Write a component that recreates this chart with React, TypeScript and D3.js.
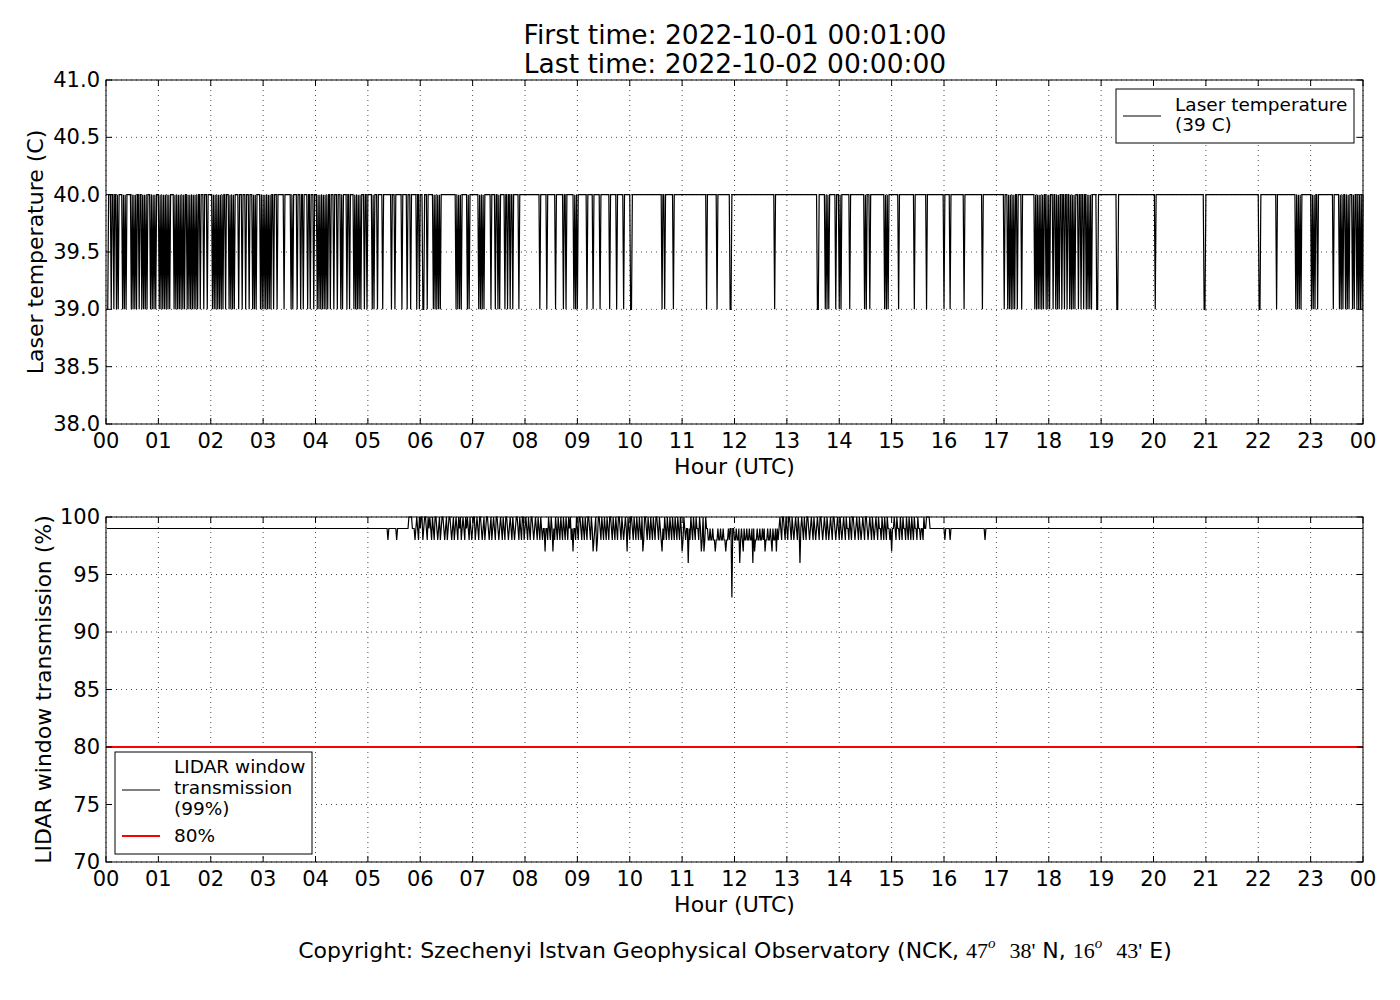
import React from 'react';
import * as d3 from 'd3';

// ---- data ----
const hourLabels = ['00', '01', '02', '03', '04', '05', '06', '07', '08', '09', '10', '11', '12',
  '13', '14', '15', '16', '17', '18', '19', '20', '21', '22', '23', '00'];
const tempTicks = [38.0, 38.5, 39.0, 39.5, 40.0, 40.5, 41.0];
const windowTicks = [70, 75, 80, 85, 90, 95, 100];

const firstMinute = 1;
const lastMinute = 1440;

// laser temperature: 40 C, except these minutes of the day where it reads 39 C
const tempHigh = 40;
const tempLow = 39;
const lowMinutes00to06 = [1, 2, 6, 9, 12, 14, 19, 21, 23, 29, 31, 33, 35, 38, 41, 43, 45, 47, 51, 53, 55, 57,
  61, 63, 65, 67, 69, 71, 73, 78, 80, 82, 84, 86, 88, 90, 93, 95, 97, 99, 101, 103, 105, 108, 112, 116,
  122, 124, 126, 128, 130, 132, 134, 137, 141, 143, 145, 147, 152, 156, 160, 164, 168, 170, 172, 177,
  179, 181, 183, 185, 187, 189, 192, 196, 204, 212, 214, 219, 223, 226, 231, 234, 238, 242, 244, 246,
  248, 250, 252, 254, 257, 261, 265, 269, 271, 276, 279, 284, 286, 288, 290, 292, 296, 299, 305, 307,
  311, 317, 327, 331, 339, 345, 349, 356, 359];
const lowMinutes06to12 = [363, 364, 368, 375, 377, 379, 381, 383, 401, 403, 405, 407, 414, 416, 427, 429,
  431, 433, 441, 446, 449, 451, 457, 460, 463, 466, 473, 497, 505, 515, 524, 527, 536, 538, 540, 551,
  558, 566, 577, 585, 593, 601, 602, 637, 640, 650, 688, 700, 715, 716];
const lowMinutes12to18 = [766, 815, 816, 824, 826, 828, 836, 840, 842, 852, 869, 871, 875, 892, 894, 896,
  908, 926, 940, 960, 967, 983, 1004, 1029, 1033, 1035, 1037, 1039, 1041, 1044, 1049, 1064, 1066, 1068,
  1070, 1072, 1074, 1077, 1079, 1081];
const lowMinutes18to24 = [1085, 1088, 1090, 1092, 1095, 1098, 1101, 1104, 1106, 1108, 1110, 1114, 1117,
  1120, 1123, 1125, 1127, 1129, 1135, 1136, 1158, 1159, 1202, 1258, 1259, 1321, 1322, 1341, 1363, 1365,
  1367, 1369, 1381, 1383, 1385, 1388, 1406, 1413, 1415, 1417, 1420, 1422, 1424, 1428, 1430, 1433, 1435,
  1437, 1439];

// LIDAR window transmission: 99 %, except these minutes
const windowBase = 99;
const windowAt100 = [347, 348, 349, 350, 356, 359, 361, 362, 365, 366, 369, 371, 374, 377, 378, 382, 385,
  386, 390, 393, 394, 398, 401, 404, 406, 409, 412, 414, 417, 421, 422, 425, 428, 429, 433, 436, 437, 441,
  444, 447, 448, 452, 455, 458, 459, 463, 466, 470, 471, 474, 477, 478, 481, 484, 487, 488, 492, 495, 498,
  507, 510, 515, 518, 521, 524, 527, 530, 532, 539, 542, 543, 546, 549, 552, 553, 556, 561, 564, 565, 568,
  571, 574, 577, 578, 581, 584, 587, 588, 591, 595, 598, 601, 602, 605, 608, 611, 614, 617, 618, 621, 624,
  627, 630, 631, 634, 640, 643, 646, 649, 652, 655, 658, 662, 670, 673, 676, 680, 684, 687, 772, 775, 776,
  779, 782, 783, 786, 790, 793, 797, 800, 803, 804, 808, 811, 815, 818, 819, 823, 826, 830, 833, 834, 838,
  841, 845, 848, 852, 855, 856, 860, 863, 867, 870, 871, 875, 878, 882, 885, 889, 892, 895, 903, 906, 910,
  913, 917, 920, 923, 926, 930, 937, 940, 941, 942, 943];
const windowAt98 = [323, 333, 354, 358, 363, 368, 373, 376, 380, 383, 388, 391, 396, 399, 403, 407, 411,
  416, 419, 423, 427, 431, 434, 439, 442, 446, 450, 454, 457, 461, 465, 468, 473, 476, 479, 483, 486, 490,
  494, 497, 500, 506, 509, 514, 517, 520, 523, 526, 529, 533, 538, 541, 545, 548, 551, 555, 559, 563, 567,
  570, 573, 576, 580, 583, 586, 590, 593, 600, 604, 607, 610, 613, 616, 620, 623, 626, 629, 633, 636, 639,
  642, 645, 648, 651, 654, 657, 661, 664, 669, 672, 675, 679, 683, 686, 690, 691, 693, 694, 696, 697, 699,
  700, 702, 703, 705, 706, 708, 709, 711, 712, 714, 720, 721, 723, 724, 727, 729, 732, 733, 735, 736, 738,
  739, 744, 745, 747, 748, 750, 751, 753, 756, 757, 759, 760, 762, 765, 766, 770, 774, 778, 781, 785,
  788, 792, 799, 802, 806, 810, 813, 817, 821, 825, 828, 832, 836, 840, 843, 847, 851, 854, 858, 862, 865,
  869, 873, 877, 880, 884, 888, 891, 894, 898, 905, 909, 912, 916, 919, 922, 925, 929, 933, 936, 961, 967,
  1007];
const windowAt97 = [503, 512, 535, 558, 562, 597, 615, 637, 660, 682, 685, 698, 710, 730, 743, 755, 763,
  768, 900];
const windowAt96 = [667, 726, 741, 795];
const windowAt93 = [717];
const windowThreshold = 80;

// ---- series built from the lists ----
const lowSet = new Set([...lowMinutes00to06, ...lowMinutes06to12, ...lowMinutes12to18, ...lowMinutes18to24]);
const windowMap = new Map<number, number>();
windowAt100.forEach(m => windowMap.set(m, 100));
windowAt98.forEach(m => windowMap.set(m, 98));
windowAt97.forEach(m => windowMap.set(m, 97));
windowAt96.forEach(m => windowMap.set(m, 96));
windowAt93.forEach(m => windowMap.set(m, 93));

const minutes = d3.range(firstMinute, lastMinute + 1);
const tempSeries = minutes.map(m => ({ m, v: lowSet.has(m) ? tempLow : tempHigh }));
const windowSeries = minutes.map(m => ({ m, v: windowMap.get(m) ?? windowBase }));

// ---- layout ----
const FONT = 'DejaVu Sans, sans-serif';
const SERIF = 'Liberation Serif, serif';
const left = 106;
const right = 1363;
const topY = [80, 424];
const botY = [517, 862];
const tickLen = 6;
const tickSize = 21;
const labelSize = 22;

const x = d3.scaleLinear().domain([0, 1440]).range([left, right]);
const yTemp = d3.scaleLinear().domain([38, 41]).range([topY[1], topY[0]]);
const yWin = d3.scaleLinear().domain([70, 100]).range([botY[1], botY[0]]);

type PanelProps = {
  y: d3.ScaleLinear<number, number>;
  ticks: number[];
  fmt: (v: number) => string;
  top: number;
  bottom: number;
  yLabel: string;
  yLabelX: number;
  children?: React.ReactNode;
};

const Panel = ({ y, ticks, fmt, top, bottom, yLabel, yLabelX, children }: PanelProps) => {
  const hourX = hourLabels.map((_, i) => x(i * 60));
  return (
    <g>
      {hourX.map((hx, i) => (
        <line key={'gx' + i} x1={hx} x2={hx} y1={top} y2={bottom}
          stroke="#000" strokeWidth={0.7} strokeDasharray="1,4" />
      ))}
      {ticks.map(v => (
        <line key={'gy' + v} x1={left} x2={right} y1={y(v)} y2={y(v)}
          stroke="#000" strokeWidth={0.7} strokeDasharray="1,4" />
      ))}
      {children}
      <rect x={left} y={top} width={right - left} height={bottom - top}
        fill="none" stroke="#000" strokeWidth={1} />
      {hourX.map((hx, i) => (
        <g key={'tx' + i}>
          <line x1={hx} x2={hx} y1={bottom} y2={bottom - tickLen} stroke="#000" />
          <line x1={hx} x2={hx} y1={top} y2={top + tickLen} stroke="#000" />
          <text x={hx} y={bottom + 24} textAnchor="middle" fontSize={tickSize} fontFamily={FONT}>
            {hourLabels[i]}
          </text>
        </g>
      ))}
      {ticks.map(v => (
        <g key={'ty' + v}>
          <line x1={left} x2={left + tickLen} y1={y(v)} y2={y(v)} stroke="#000" />
          <line x1={right} x2={right - tickLen} y1={y(v)} y2={y(v)} stroke="#000" />
          <text x={left - 6} y={y(v) + 7} textAnchor="end" fontSize={tickSize} fontFamily={FONT}>
            {fmt(v)}
          </text>
        </g>
      ))}
      <text x={(left + right) / 2} y={bottom + 50} textAnchor="middle" fontSize={labelSize} fontFamily={FONT}>
        Hour (UTC)
      </text>
      <text transform={`translate(${yLabelX},${(top + bottom) / 2}) rotate(-90)`} textAnchor="middle"
        dy="0.35em" fontSize={labelSize} fontFamily={FONT}>
        {yLabel}
      </text>
    </g>
  );
};

export default function App() {
  const tempLine = d3.line<{ m: number; v: number }>().x(d => x(d.m)).y(d => yTemp(d.v));
  const winLine = d3.line<{ m: number; v: number }>().x(d => x(d.m)).y(d => yWin(d.v));

  return (
    <div style={{ position: 'absolute', left: 0, top: 0 }}>
      <svg width={1400} height={1000} style={{ display: 'block', background: '#fff' }}>
        <rect width={1400} height={1000} fill="#fff" />
        <text x={735} y={44} textAnchor="middle" fontSize={26.5} fontFamily={FONT}>
          First time: 2022-10-01 00:01:00
        </text>
        <text x={735} y={73} textAnchor="middle" fontSize={26.5} fontFamily={FONT}>
          Last time: 2022-10-02 00:00:00
        </text>

        <Panel y={yTemp} ticks={tempTicks} fmt={d3.format('.1f')} top={topY[0]} bottom={topY[1]}
          yLabel="Laser temperature (C)" yLabelX={35}>
          <path d={tempLine(tempSeries) ?? ''} fill="none" stroke="#000" strokeWidth={1.2} />
        </Panel>

        <Panel y={yWin} ticks={windowTicks} fmt={d3.format('d')} top={botY[0]} bottom={botY[1]}
          yLabel="LIDAR window transmission (%)" yLabelX={43}>
          <path d={winLine(windowSeries) ?? ''} fill="none" stroke="#000" strokeWidth={1.2} />
          <line x1={left} x2={right} y1={yWin(windowThreshold)} y2={yWin(windowThreshold)}
            stroke="#ff0000" strokeWidth={2} />
        </Panel>

        {/* legend, top panel */}
        <g>
          <rect x={1116} y={89} width={238} height={54} fill="#fff" stroke="#000" strokeWidth={1} />
          <line x1={1123} x2={1161} y1={116} y2={116} stroke="#000" strokeWidth={1.2} />
          <text x={1175} y={111} fontSize={18.5} fontFamily={FONT}>Laser temperature</text>
          <text x={1175} y={131} fontSize={18.5} fontFamily={FONT}>(39 C)</text>
        </g>

        {/* legend, bottom panel */}
        <g>
          <rect x={115} y={752} width={197} height={102} fill="#fff" stroke="#000" strokeWidth={1} />
          <line x1={122} x2={160} y1={790} y2={790} stroke="#000" strokeWidth={1.2} />
          <text x={174} y={773} fontSize={18.5} fontFamily={FONT}>LIDAR window</text>
          <text x={174} y={794} fontSize={18.5} fontFamily={FONT}>transmission</text>
          <text x={174} y={815} fontSize={18.5} fontFamily={FONT}>(99%)</text>
          <line x1={122} x2={160} y1={836} y2={836} stroke="#ff0000" strokeWidth={2.2} />
          <text x={174} y={842} fontSize={18.5} fontFamily={FONT}>80%</text>
        </g>

        <text x={735} y={958} textAnchor="middle" fontSize={22} fontFamily={FONT}>
          Copyright: Szechenyi Istvan Geophysical Observatory (NCK,{' '}
          <tspan fontFamily={SERIF}>47</tspan>
          <tspan fontFamily={SERIF} fontStyle="italic" fontSize={15} dy={-10}>o</tspan>
          <tspan dy={10}>{'\u00a0\u00a0'}</tspan>
          <tspan fontFamily={SERIF}>38'</tspan> N,{' '}
          <tspan fontFamily={SERIF}>16</tspan>
          <tspan fontFamily={SERIF} fontStyle="italic" fontSize={15} dy={-10}>o</tspan>
          <tspan dy={10}>{'\u00a0\u00a0'}</tspan>
          <tspan fontFamily={SERIF}>43'</tspan> E)
        </text>
      </svg>
    </div>
  );
}
